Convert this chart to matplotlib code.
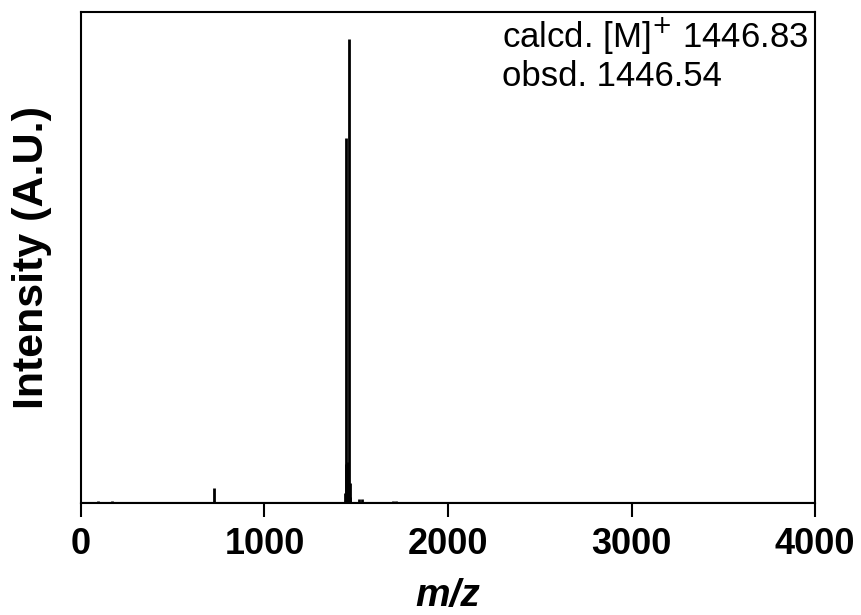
import matplotlib
matplotlib.use("Agg")
import matplotlib.pyplot as plt

plt.rcParams['font.family'] = ['Liberation Sans', 'DejaVu Sans']

# stick spectrum (m/z, relative intensity)
mz = [93, 169, 723, 1440, 1444, 1446, 1450, 1454, 1460, 1464, 1468, 1515, 1530, 1700, 1717]
intensity = [0.004, 0.004, 0.031, 0.020, 0.743, 0.080, 0.060, 0.084, 0.945, 0.040, 0.012, 0.008, 0.008, 0.005, 0.004]

fig = plt.figure(figsize=(8.61, 6.15), dpi=100)
ax = fig.add_axes([0.094, 0.182, 0.8526, 0.7985])

ax.vlines(mz, 0, intensity, color='black', linewidth=2)
ax.axhline(0, color='black', linewidth=1.5)

ax.set_xlim(0, 4000)
ax.set_ylim(0, 1.0)
ax.set_xticks([0, 1000, 2000, 3000, 4000])
ax.set_yticks([])
ax.tick_params(axis='x', direction='out', length=10, width=1.5, labelsize=26, pad=7)
for lbl in ax.get_xticklabels():
    lbl.set_fontweight('bold')
for sp in ax.spines.values():
    sp.set_linewidth(1.5)

ax.set_xlabel('m/z', fontsize=28, fontweight='bold', style='italic', labelpad=12)
ax.set_ylabel('Intensity (A.U.)', fontsize=31, fontweight='bold', labelpad=21)

ax.text(0.573, 0.993, 'calcd. [M]$^{+}$ 1446.83\nobsd. 1446.54', transform=ax.transAxes,
        fontsize=25, va='top', ha='left', linespacing=1.1)

fig.savefig('out.png', dpi=100)
